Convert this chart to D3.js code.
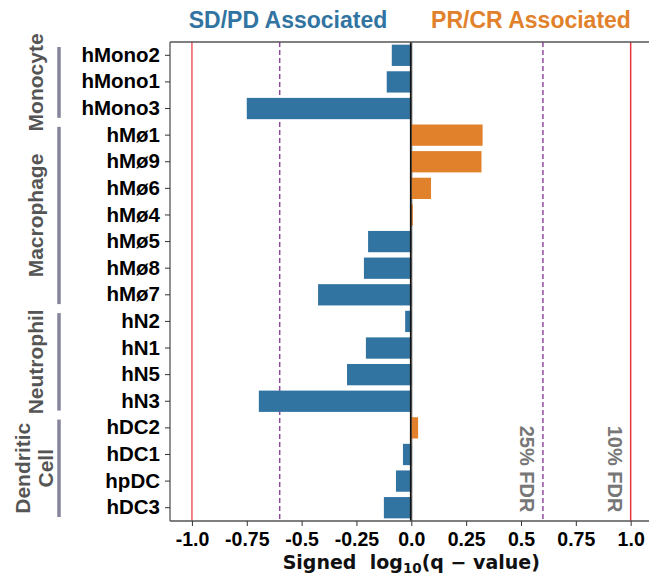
<!DOCTYPE html>
<html>
<head>
<meta charset="utf-8">
<script src="https://cdn.jsdelivr.net/npm/d3@7"></script>
<style>
  body { margin: 0; background: #fff; }
  text { font-weight: bold; }
</style>
</head>
<body>
<script>
// cell types, top to bottom
var categories = ['hMono2', 'hMono1', 'hMono3', 'hMø1', 'hMø9', 'hMø6', 'hMø4', 'hMø5', 'hMø8', 'hMø7',
                  'hN2', 'hN1', 'hN5', 'hN3', 'hDC2', 'hDC1', 'hpDC', 'hDC3'];
// signed log10(q-value)
var values = [-0.089, -0.112, -0.75, 0.325, 0.32, 0.09, 0.007, -0.197, -0.216, -0.425,
              -0.028, -0.207, -0.293, -0.695, 0.031, -0.038, -0.07, -0.125];
var groupNames = [['Monocyte'], ['Macrophage'], ['Neutrophil'], ['Dendritic', 'Cell']];
var groupStart = ['hMono2', 'hMø1', 'hN2', 'hDC2'];
var groupEnd = ['hMono3', 'hMø7', 'hN3', 'hDC3'];
var xTicks = [-1.0, -0.75, -0.5, -0.25, 0.0, 0.25, 0.5, 0.75, 1.0];
var xTickLabels = ['-1.0', '-0.75', '-0.5', '-0.25', '0.0', '0.25', '0.5', '0.75', '1.0'];
var fdr10 = 1.0;
var fdr25 = 0.6;

var w = 649;
var h = 582;
var plotLeft = 170, plotTop = 42, plotBottom = 521;
var arial = '"Liberation Sans", Arial, sans-serif';

var svg = d3.select('body')
    .append('svg')
    .attr('width', w)
    .attr('height', h)
    .style('font-family', arial);

var x = d3.scaleLinear().domain([-1.1, 1.1]).range([plotLeft, 652.6]);
var y = d3.scaleBand().domain(categories).range([plotTop, plotBottom]).paddingInner(0.2).paddingOuter(0.1);

// threshold lines
[-fdr10, fdr10].forEach(function(v, i){
  svg.append('line')
    .attr('x1', x(v)).attr('x2', x(v))
    .attr('y1', plotTop).attr('y2', plotBottom)
    .attr('stroke', i == 0 ? '#ee5a60' : '#e8353a')
    .attr('stroke-width', 1.5);
});
[-fdr25, fdr25].forEach(function(v){
  svg.append('line')
    .attr('x1', x(v)).attr('x2', x(v))
    .attr('y1', plotTop).attr('y2', plotBottom)
    .attr('stroke', '#8e4a9c')
    .attr('stroke-width', 1.5)
    .attr('stroke-dasharray', '5,3');
});

// light zero line under the bars
svg.append('line')
    .attr('x1', x(0) + 1).attr('x2', x(0) + 1)
    .attr('y1', plotTop).attr('y2', plotBottom)
    .attr('stroke', '#c8c8c8').attr('stroke-width', 1.2);

// bars
svg.selectAll('rect.bar')
    .data(values)
    .enter()
    .append('rect')
    .attr('class', 'bar')
    .attr('x', function(d){ return x(Math.min(0, d)); })
    .attr('y', function(d, i){ return y(categories[i]); })
    .attr('width', function(d){ return Math.abs(x(d) - x(0)); })
    .attr('height', y.bandwidth())
    .attr('fill', function(d){ return d < 0 ? '#3274a1' : '#e1812c'; });

// black zero line
svg.append('line')
    .attr('x1', x(0) - 0.5).attr('x2', x(0) - 0.5)
    .attr('y1', plotTop).attr('y2', plotBottom)
    .attr('stroke', '#111').attr('stroke-width', 1.8);

// FDR labels
[[fdr25, '25% FDR'], [fdr10, '10% FDR']].forEach(function(d){
  var cx = x(d[0]) - 16, cy = 469;
  svg.append('text')
    .attr('transform', 'translate(' + cx + ',' + cy + ') rotate(90)')
    .attr('text-anchor', 'middle')
    .attr('dy', '0.35em')
    .attr('font-size', '20px')
    .attr('fill', '#777')
    .text(d[1]);
});

// spines
svg.append('line').attr('x1', plotLeft).attr('x2', w).attr('y1', plotTop).attr('y2', plotTop)
    .attr('stroke', '#555').attr('stroke-width', 1.3);
svg.append('line').attr('x1', plotLeft).attr('x2', w).attr('y1', plotBottom).attr('y2', plotBottom)
    .attr('stroke', '#555').attr('stroke-width', 1.3);
svg.append('line').attr('x1', plotLeft).attr('x2', plotLeft).attr('y1', plotTop).attr('y2', plotBottom)
    .attr('stroke', '#555').attr('stroke-width', 1.3);

// x axis
var xAxis = svg.append('g')
    .attr('transform', 'translate(0,' + plotBottom + ')')
    .call(d3.axisBottom(x).tickValues(xTicks).tickSize(5).tickPadding(6)
      .tickFormat(function(d, i){ return xTickLabels[i]; }));
xAxis.select('.domain').remove();
xAxis.selectAll('line').attr('stroke', '#333');
xAxis.selectAll('text').attr('font-size', '19.5px').attr('fill', '#000')
    .attr('font-family', arial);

// y axis
var yAxis = svg.append('g')
    .attr('transform', 'translate(' + plotLeft + ',0)')
    .call(d3.axisLeft(y).tickSize(5).tickPadding(5));
yAxis.select('.domain').remove();
yAxis.selectAll('line').attr('stroke', '#333');
yAxis.selectAll('text').attr('font-size', '20.5px').attr('fill', '#000')
    .attr('font-family', arial);

// x label (mathtext style)
var xl = svg.append('text')
    .attr('x', x(0)).attr('y', 569)
    .attr('text-anchor', 'middle')
    .style('font-family', '"DejaVu Sans", sans-serif')
    .attr('font-size', '19px')
    .attr('fill', '#111')
    .attr('xml:space', 'preserve');
xl.append('tspan').text('Signed  log');
xl.append('tspan').attr('font-size', '13.5px').attr('dy', 4).text('10');
xl.append('tspan').attr('dy', -4).text('(q \u2212 value)');

// titles
svg.append('text').attr('x', 288).attr('y', 28).attr('text-anchor', 'middle')
    .attr('font-size', '23px').attr('fill', '#3274a1').text('SD/PD Associated');
svg.append('text').attr('x', 531).attr('y', 28).attr('text-anchor', 'middle')
    .attr('font-size', '23px').attr('fill', '#e1812c').text('PR/CR Associated');

// group brackets and labels
groupNames.forEach(function(g, i){
  var y0 = y(groupStart[i]) - y.step() * 0.1 + 5;
  var y1 = y(groupEnd[i]) + y.bandwidth() + y.step() * 0.1 - 4;
  svg.append('line')
    .attr('x1', 59).attr('x2', 59)
    .attr('y1', y0).attr('y2', y1)
    .attr('stroke', '#84849a').attr('stroke-width', 3.5);
  var cy = (y0 + y1) / 2;
  g.forEach(function(line, j){
    var cx = g.length == 1 ? 36 : 23 + j * 23;
    svg.append('text')
      .attr('transform', 'translate(' + cx + ',' + cy + ') rotate(-90)')
      .attr('text-anchor', 'middle')
      .attr('dy', '0.35em')
      .attr('font-size', '21px')
      .attr('fill', '#555')
      .text(line);
  });
});
</script>
</body>
</html>
